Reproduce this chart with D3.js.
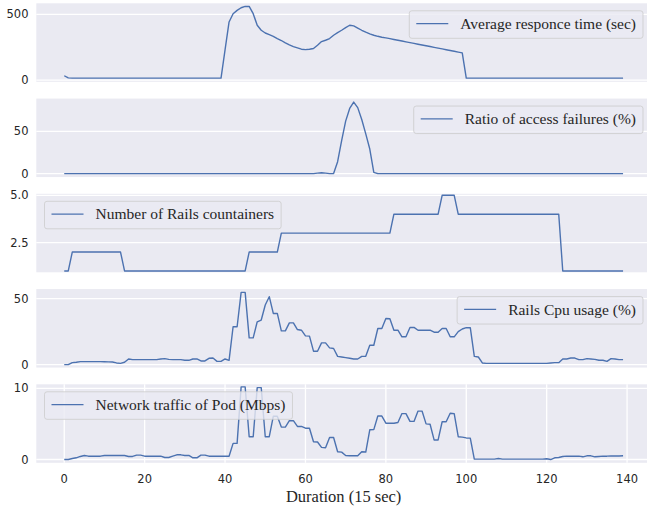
<!DOCTYPE html>
<html lang="en"><head><meta charset="utf-8">
<script src="https://d3js.org/d3.v7.min.js"></script>
<style>
  body { margin: 0; background: #fff; }
  .tick-label { font: 11.5px "DejaVu Sans", sans-serif; fill: #262626; }
  .serif { font-family: "Liberation Serif", serif; fill: #262626; }
</style>
</head><body>
<div id="chart"></div>
<script>
// sample index (one sample = 15 sec)
const steps = d3.range(140);

const responseTime = [33,17,15,15,15,15,15,15,15,15, 15,15,15,15,15,15,15,15,15,15,
  15,15,15,15,15,15,15,15,15,15, 15,15,15,15,15,15,15,15,15,15,
  230,442,505,530,550,560,560,505,417,379, 358,346,333,316,301,283,268,255,245,235,
  232,235,240,265,293,303,316,341,361,379, 399,417,412,396,379,364,351,341,333,326,
  321,315,309,303,297,291,285,279,273,267, 261,255,249,243,237,231,225,219,213,207,
  15,15,15,15,15,15,15,15,15,15, 15,15,15,15,15,15,15,15,15,15,
  15,15,15,15,15,15,15,15,15,15, 15,15,15,15,15,15,15,15,15,15];

const failureRatio = [0,0,0,0,0,0,0,0,0,0, 0,0,0,0,0,0,0,0,0,0,
  0,0,0,0,0,0,0,0,0,0, 0,0,0,0,0,0,0,0,0,0,
  0,0,0,0,0,0,0,0,0,0, 0,0,0,0,0,0,0,0,0,0,
  0,0,0,0.5,1,0.5,0,0,14,39, 62,77,84.5,78,64,47,29,1.5,0,0,
  0,0,0,0,0,0,0,0,0,0, 0,0,0,0,0,0,0,0,0,0,
  0,0,0,0,0,0,0,0,0,0, 0,0,0,0,0,0,0,0,0,0,
  0,0,0,0,0,0,0,0,0,0, 0,0,0,0,0,0,0,0,0,0];

const railsContainers = [1,1,2,2,2,2,2,2,2,2, 2,2,2,2,2,1,1,1,1,1,
  1,1,1,1,1,1,1,1,1,1, 1,1,1,1,1,1,1,1,1,1,
  1,1,1,1,1,1,2,2,2,2, 2,2,2,2,3,3,3,3,3,3,
  3,3,3,3,3,3,3,3,3,3, 3,3,3,3,3,3,3,3,3,3,
  3,3,4,4,4,4,4,4,4,4, 4,4,4,4,5,5,5,5,4,4,
  4,4,4,4,4,4,4,4,4,4, 4,4,4,4,4,4,4,4,4,4,
  4,4,4,4,1,1,1,1,1,1, 1,1,1,1,1,1,1,1,1,1];

const cpuUsage = [0,0,1.5,1.8,2.3,2.3,2.3,2.3,2.3,2.3, 2.2,2.1,2.0,1.3,1.0,1.8,4.3,3.8,3.8,3.8,
  3.8,3.8,3.8,3.8,4.3,4.6,4.0,3.8,3.8,3.8, 3.3,3.3,4.3,4.3,2.8,2.8,4.8,5.0,2.5,2.5,
  4.3,3.3,28.7,28.7,54.8,54.8,20.3,20.3,32.5,33.8, 45.2,51.5,38.8,38.8,25.6,25.6,31.7,31.7,26.6,26.1,
  21.8,21.6,10.2,10.2,16.5,16.5,12.7,12.2,6.3,5.8, 5.3,4.8,4.3,4.3,6.3,6.3,14.7,14.7,27.4,27.4,
  35,34.8,26.1,26.1,21.1,21.1,28.2,28.2,26.1,26.1, 26.1,26.1,24.6,24.6,27.4,27.4,21.1,21.1,25,27,
  28,28,6.3,5.8,1.3,1.0,1.0,1.0,1.0,1.0, 1.0,1.0,1.0,1.0,1.0,1.0,1.0,1.0,1.0,1.0,
  1.0,1.3,1.5,1.5,4.3,4.3,5.0,5.0,3.8,3.8, 4.6,4.3,4.0,3.3,3.3,2.5,4.6,4.3,3.8,3.8];

const networkTraffic = [0,0,0.14,0.24,0.43,0.57,0.47,0.47,0.47,0.47, 0.57,0.57,0.57,0.57,0.57,0.57,0.43,0.43,0.62,0.62,
  0.47,0.47,0.47,0.47,0.47,0.28,0.28,0.47,0.66,0.66, 0.57,0.57,0.24,0.24,0.62,0.62,0.47,0.47,0.47,0.47,
  0.47,0.47,2.27,2.27,10.2,10.2,3.2,3.2,10.1,10.1, 3.2,3.2,6.07,6.07,4.55,4.55,5.45,5.45,4.64,4.64,
  4.4,4.4,2.5,2.46,1.7,1.66,3.1,3.1,1.1,1.04, 0.57,0.52,0.52,0.52,1.1,1.05,4.17,4.2,6.1,6.1,
  5.1,5.1,5.1,5.2,6.45,6.45,5.35,5.35,6.8,6.8, 5.0,4.95,2.75,2.75,5.3,5.3,6.5,6.45,3.2,3.15,
  3.03,3.0,0.05,0.05,0.05,0.05,0.05,0.05,0.14,0.05, 0.05,0.05,0.05,0.05,0.05,0.05,0.05,0.05,0.05,0.05,
  0.1,0,0.24,0.28,0.43,0.47,0.47,0.47,0.47,0.38, 0.52,0.52,0.38,0.43,0.47,0.47,0.5,0.5,0.5,0.52];

const labels = ["Average responce time (sec)", "Ratio of access failures (%)",
  "Number of Rails countainers", "Rails Cpu usage (%)", "Network traffic of Pod (Mbps)"];
const yTicks = [[0, 500], [0, 50], [2.5, 5.0], [0, 50], [0, 10]];
const xTicks = [0, 20, 40, 60, 80, 100, 120, 140];
const xTitle = "Duration (15 sec)";

const width = 647, height = 508;
const color = "#4c72b0", bg = "#eaeaf2";

const panels = [
  { values: responseTime,    yDomain: [-13, 584],    legend: "right", fmt: d3.format("d") },
  { values: failureRatio,    yDomain: [-4.1, 88.7],  legend: "right", fmt: d3.format("d") },
  { values: railsContainers, yDomain: [0.93, 5.08],  legend: "left",  fmt: d3.format(".1f") },
  { values: cpuUsage,        yDomain: [-2.2, 57.3],  legend: "right", fmt: d3.format("d") },
  { values: networkTraffic,  yDomain: [-0.46, 10.56], legend: "left", fmt: d3.format("d") }
];

const left = 36.3, right = 651, panelH = 78.5, panelStep = 95.25, firstTop = 3.3;

const svg = d3.select("#chart").append("svg")
  .attr("width", width).attr("height", height);

const x = d3.scaleLinear().domain([-6.95, 145.95]).range([left, right]);

panels.forEach((p, i) => {
  const top = firstTop + i * panelStep, bottom = top + panelH;
  const y = d3.scaleLinear().domain(p.yDomain).range([bottom, top]);
  const g = svg.append("g");
  const isLast = i === panels.length - 1;

  g.append("rect").attr("x", left).attr("y", top)
    .attr("width", right - left).attr("height", panelH).attr("fill", bg);

  // horizontal grid
  g.selectAll(".hgrid").data(yTicks[i]).join("line")
    .attr("x1", left).attr("x2", right)
    .attr("y1", d => y(d)).attr("y2", d => y(d))
    .attr("stroke", "#fff").attr("stroke-width", 1.3);

  if (isLast) {
    g.selectAll(".vgrid").data(xTicks).join("line")
      .attr("x1", d => x(d)).attr("x2", d => x(d))
      .attr("y1", top).attr("y2", bottom)
      .attr("stroke", "#fff").attr("stroke-width", 1.3);
    g.selectAll(".xlab").data(xTicks).join("text")
      .attr("class", "tick-label")
      .attr("x", d => x(d)).attr("y", bottom + 20.5)
      .attr("text-anchor", "middle")
      .text(d => d);
  }

  g.selectAll(".ylab").data(yTicks[i]).join("text")
    .attr("class", "tick-label")
    .attr("x", 28.5).attr("y", d => y(d))
    .attr("text-anchor", "end").attr("dominant-baseline", "central")
    .text(d => p.fmt(d));

  const line = d3.line().x((d, k) => x(steps[k])).y(d => y(d));
  g.append("path").datum(p.values)
    .attr("d", line).attr("fill", "none")
    .attr("stroke", color).attr("stroke-width", 1.4)
    .attr("stroke-linejoin", "round");

  // legend
  const lg = g.append("g");
  const box = lg.append("rect");
  const txt = lg.append("text").attr("class", "serif")
    .style("font-size", "15.5px").text(labels[i]);
  const tw = txt.node().getComputedTextLength();
  const lw = 51 + tw + 7, lh = 27.5;
  const lx = p.legend === "right" ? right - 8 - lw : left + 8.2;
  const ly = top + 7.5;
  box.attr("x", lx).attr("y", ly).attr("width", lw).attr("height", lh)
    .attr("rx", 2.5).attr("fill", bg).attr("fill-opacity", 0.8)
    .attr("stroke", "#cccccc").attr("stroke-opacity", 0.8);
  lg.append("line").attr("x1", lx + 7).attr("x2", lx + 39)
    .attr("y1", ly + 12.8).attr("y2", ly + 12.8)
    .attr("stroke", color).attr("stroke-width", 1.4);
  txt.attr("x", lx + 51).attr("y", ly + 18);
});

svg.append("text").attr("class", "serif")
  .style("font-size", "16.5px")
  .attr("x", (left + right) / 2).attr("y", 502)
  .attr("text-anchor", "middle")
  .text(xTitle);
</script>
</body></html>
